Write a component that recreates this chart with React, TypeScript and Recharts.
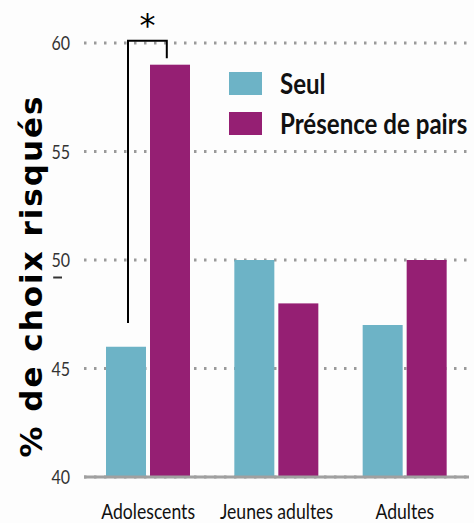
import { BarChart, Bar, XAxis, YAxis, CartesianGrid } from 'recharts'

const categories = ['Adolescents', 'Jeunes adultes', 'Adultes']
const seul = [46, 50, 47]
const pairs = [59, 48, 50]
const yTicks = [40, 45, 50, 55, 60]
const legendItems = ['Seul', 'Présence de pairs']

// bracket ends, in data units
const bracketTop = 60.1
const bracketLeftEnd = 47.1
const bracketRightEnd = 59.3

const TEAL = '#6db3c6'
const PURPLE = '#951f73'
const FONT = 'Lato, "Open Sans", sans-serif'
const SQUEEZE = 0.8

const data = categories.map((name, i) => ({ name, seul: seul[i], pairs: pairs[i] }))

function PairsBar(props: any) {
  const { x, y, width, height, index, value, fill } = props
  const v = Array.isArray(value) ? value[1] : value
  const bar = <rect x={x} y={y} width={width} height={height} fill={fill} />
  if (index !== 0) return bar
  // scale taken from the bar itself
  const ppu = height / (v - 40)
  const base = y + height
  const yOf = (d: number) => base - (d - 40) * ppu
  const left = x - 4 - width * 0.45
  const right = x + width * 0.42
  const top = yOf(bracketTop)
  return (
    <g>
      {bar}
      <path
        d={`M${left},${yOf(bracketLeftEnd)} L${left},${top} L${right},${top} L${right},${yOf(bracketRightEnd)}`}
        fill="none"
        stroke="#000"
        strokeWidth={2}
      />
      <text x={(left + right) / 2} y={top - 5} textAnchor="middle" fontSize={32} fontFamily="DejaVu Sans" fill="#000">
        *
      </text>
    </g>
  )
}

function YTick(props: any) {
  const { x, y, payload } = props
  return (
    <g transform={`translate(${x},${y}) scale(${SQUEEZE},1)`}>
      <text x={0} y={0} dy={7} textAnchor="end" fontSize={20} fontFamily={FONT} fill="#333">
        {payload.value}
      </text>
      {/* stray little dash under the 50 tick */}
      {payload.value === 50 && <path d="M-21,17.5 L-10,17.5" stroke="#333" strokeWidth={2} />}
    </g>
  )
}

function XTick(props: any) {
  const { x, y, payload } = props
  return (
    <g transform={`translate(${x},${y}) scale(${SQUEEZE},1)`}>
      <text x={0} y={0} dy={40} textAnchor="middle" fontSize={22} fontFamily={FONT} fill="#111">
        {payload.value}
      </text>
    </g>
  )
}

function YLabel(props: any) {
  const { viewBox } = props
  const bx = viewBox.x + 42
  const cy = 276
  return (
    <text
      x={bx}
      y={cy}
      transform={`rotate(-90, ${bx}, ${cy})`}
      textAnchor="middle"
      fontFamily="DejaVu Sans"
      fontWeight="bold"
      fontSize={31}
      letterSpacing={2}
      fill="#000"
    >
      % de choix risqués
    </text>
  )
}

export default function App() {
  const colors = [TEAL, PURPLE]
  return (
    <div style={{ position: 'absolute', left: 0, top: 0, width: 474, height: 523, background: '#fdfdfd' }}>
      <BarChart
        width={474}
        height={523}
        data={data}
        margin={{ top: 43, right: 5, bottom: 0, left: 0 }}
        barSize={40}
        barGap={4}
      >
        <CartesianGrid vertical={false} stroke="#9a9a9a" strokeWidth={3} strokeDasharray="2.5 7.5" />
        <XAxis
          dataKey="name"
          height={46}
          axisLine={{ stroke: '#a0a0a0', strokeWidth: 3 }}
          tickLine={false}
          tickSize={0}
          tick={<XTick />}
        />
        <YAxis
          domain={[40, 60]}
          ticks={yTicks}
          width={84}
          axisLine={false}
          tickLine={false}
          tickSize={0}
          tickMargin={14}
          tick={<YTick />}
          label={<YLabel />}
        />
        <Bar dataKey="seul" fill={TEAL} isAnimationActive={false} />
        <Bar dataKey="pairs" fill={PURPLE} shape={<PairsBar />} isAnimationActive={false} />
      </BarChart>
      <div style={{ position: 'absolute', left: 229, top: 63 }}>
        {legendItems.map((label, i) => (
          <div key={label} style={{ display: 'flex', alignItems: 'center', height: 40 }}>
            <div style={{ width: 33, height: 23, background: colors[i], flexShrink: 0 }} />
            <span
              style={{
                marginLeft: 18,
                fontFamily: FONT,
                fontWeight: 'bold',
                fontSize: 28,
                color: '#111',
                whiteSpace: 'nowrap',
                display: 'inline-block',
                transform: 'scaleX(0.86)',
                transformOrigin: 'left center',
              }}
            >
              {label}
            </span>
          </div>
        ))}
      </div>
    </div>
  )
}
